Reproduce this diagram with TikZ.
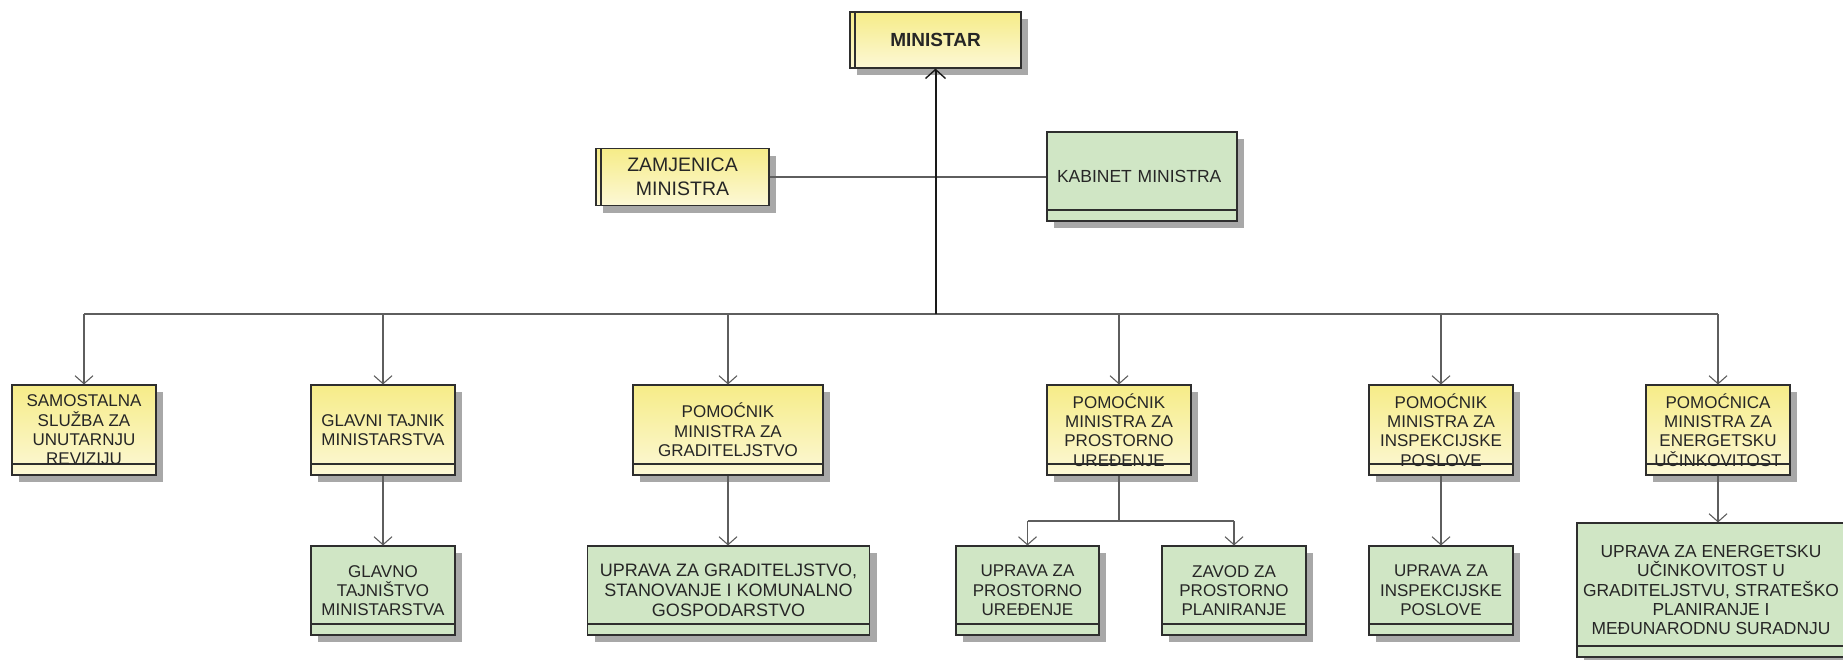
\documentclass[tikz,border=0pt]{standalone}
\usepackage{fontspec}
\setmainfont{Liberation Sans}
\usetikzlibrary{shadows,arrows.meta}
\definecolor{yTop}{HTML}{F6EC88}
\definecolor{yBot}{HTML}{FCF8D6}
\definecolor{gFill}{HTML}{D0E6C5}
\definecolor{shadowgray}{HTML}{A8A8A8}
\definecolor{linegray}{HTML}{5E5E5E}
\definecolor{boxline}{HTML}{2E2E2E}
\tikzset{
  box/.style={draw=boxline, line width=1.1pt, inner sep=2pt, align=center,
    text=black!85,
    font=\fontsize{17}{19.3}\selectfont,
    drop shadow={shadow xshift=7pt, shadow yshift=-7pt, fill=shadowgray, opacity=1}},
  ybox/.style={box, top color=yTop, bottom color=yBot},
  gbox/.style={box, fill=gFill},
  comp/.style={path picture={\draw[boxline, line width=1.1pt]
     ([yshift=11pt]path picture bounding box.south west) --
     ([yshift=11pt]path picture bounding box.south east);}},
  lbar/.style={path picture={\draw[boxline, line width=1.1pt]
     ([xshift=5pt]path picture bounding box.north west) --
     ([xshift=5pt]path picture bounding box.south west);}},
  conn/.style={draw=linegray, line width=1.3pt},
  arr/.style={conn, -{Straight Barb[length=8pt,width=18pt,line width=1.1pt]}},
  trunk/.style={draw=black!90, line width=2pt},
}
\begin{document}
\begin{tikzpicture}[x=1pt,y=-1pt]
\useasboundingbox (0,0) rectangle (1843,659);
% top
\node[ybox, lbar, minimum width=171pt, minimum height=56pt, font=\bfseries\fontsize{19}{22}\selectfont] (min) at (935.5,40) {MINISTAR};
\node[ybox, lbar, minimum width=173pt, minimum height=57pt, font=\fontsize{19.5}{23.5}\selectfont] (zam) at (682.5,177) {ZAMJENICA\\MINISTRA};
\node[gbox, comp, minimum width=190pt, minimum height=89pt, text width=170pt, align=left, font=\fontsize{17.5}{19.3}\selectfont] (kab) at (1142,176.5) {KABINET MINISTRA};
% row 1
\node[ybox, comp, minimum width=144pt, minimum height=90pt] (samo) at (84,430) {SAMOSTALNA\\SLUŽBA ZA\\UNUTARNJU\\REVIZIJU};
\node[ybox, comp, minimum width=144pt, minimum height=90pt, align=left] (glt) at (383,430) {GLAVNI TAJNIK\\MINISTARSTVA};
\node[ybox, comp, minimum width=190pt, minimum height=90pt] (pgr) at (728,430) {POMOĆNIK\\MINISTRA ZA\\GRADITELJSTVO};
\node[ybox, comp, minimum width=144pt, minimum height=90pt] (ppr) at (1119,430) {POMOĆNIK\\MINISTRA ZA\\PROSTORNO\\UREĐENJE};
\node[ybox, comp, minimum width=144pt, minimum height=90pt] (pin) at (1441,430) {POMOĆNIK\\MINISTRA ZA\\INSPEKCIJSKE\\POSLOVE};
\node[ybox, comp, minimum width=144pt, minimum height=90pt] (pen) at (1718,430) {POMOĆNICA\\MINISTRA ZA\\ENERGETSKU\\UČINKOVITOST};
% row 2
\node[gbox, comp, minimum width=144pt, minimum height=89pt] (gtm) at (383,590.5) {GLAVNO\\TAJNIŠTVO\\MINISTARSTVA};
\node[gbox, comp, minimum width=282pt, minimum height=89pt, font=\fontsize{18}{19.8}\selectfont] (ugr) at (728.5,590.5) {UPRAVA ZA GRADITELJSTVO,\\STANOVANJE I KOMUNALNO\\GOSPODARSTVO};
\node[gbox, comp, minimum width=143pt, minimum height=89pt] (upr) at (1027.5,590.5) {UPRAVA ZA\\PROSTORNO\\UREĐENJE};
\node[gbox, comp, minimum width=144pt, minimum height=89pt] (zav) at (1234,590.5) {ZAVOD ZA\\PROSTORNO\\PLANIRANJE};
\node[gbox, comp, minimum width=144pt, minimum height=89pt] (uin) at (1441,590.5) {UPRAVA ZA\\INSPEKCIJSKE\\POSLOVE};
\node[gbox, comp, minimum width=268pt, minimum height=134pt, font=\fontsize{17.4}{19.3}\selectfont] (uen) at (1711,590) {UPRAVA ZA ENERGETSKU\\UČINKOVITOST U\\GRADITELJSTVU, STRATEŠKO\\PLANIRANJE I\\MEĐUNARODNU SURADNJU};
% connectors
\coordinate (bus) at (935.5,314);
\coordinate (pj) at (1119,521);
\draw[conn] (zam.east) -- (zam.east -| kab.west);
\draw[conn] (samo.north |- bus) -- (pen.north |- bus);
\draw[trunk, -{Straight Barb[length=9pt,width=20pt,line width=1.4pt]}] (bus) -- (min.south);
\foreach \n in {samo,glt,pgr,ppr,pin,pen}{
  \draw[arr] (\n.north |- bus) -- (\n.north);
}
\draw[arr] (glt.south) -- (gtm.north);
\draw[arr] (pgr.south) -- (pgr.south |- ugr.north);
\draw[arr] (pin.south) -- (uin.north);
\draw[arr] (pen.south) -- (pen.south |- uen.north);
\draw[conn] (ppr.south) -- (pj);
\draw[conn] (upr.north |- pj) -- (zav.north |- pj);
\draw[arr] (upr.north |- pj) -- (upr.north);
\draw[arr] (zav.north |- pj) -- (zav.north);
\end{tikzpicture}
\end{document}
